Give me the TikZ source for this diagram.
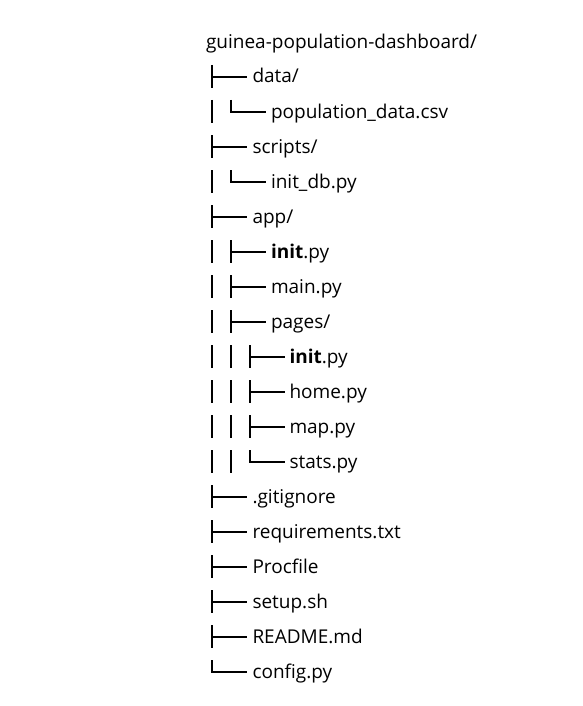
\documentclass[tikz,border=0pt]{standalone}
\usepackage{fontspec}
\setmainfont{Open Sans}
\begin{document}
\begin{tikzpicture}[x=1pt,y=-1pt,
  tree/.style={draw=black,line width=2pt,line join=miter,line cap=butt},
  lbl/.style={anchor=base west,inner sep=0pt,outer sep=0pt,text=black,font=\fontsize{19pt}{23pt}\selectfont}]
\fill[white] (0,0) rectangle (582,706);
\useasboundingbox (0,0) rectangle (582,706);
\newcommand\Vb[2]{\draw[tree] ({#1},{42+35*#2-12}) -- ({#1},{42+35*#2+11});}
\newcommand\Tee[2]{\Vb{#1}{#2}\draw[tree] ({#1},{42+35*#2}) -- ({#1+35},{42+35*#2});}
\newcommand\Ell[2]{\draw[tree] ({#1},{42+35*#2-12}) -- ({#1},{42+35*#2}) -- ({#1+35},{42+35*#2});}
\def\ca{212}\def\cb{231}\def\cc{250}
\def\ta{252.5}\def\tb{271}\def\tc{289.5}
% root
\node[lbl] (root) at (206,49) {guinea-population-dashboard/};
% rows
\Tee{\ca}{1}\node[lbl] (data) at (\ta,{42+35*1+6}) {data/};
\Vb{\ca}{2}\Ell{\cb}{2}\node[lbl] (csv) at (\tb,{42+35*2+6}) {population\_data.csv};
\Tee{\ca}{3}\node[lbl] (scripts) at (\ta,{42+35*3+6}) {scripts/};
\Vb{\ca}{4}\Ell{\cb}{4}\node[lbl] (initdb) at (\tb,{42+35*4+6}) {init\_db.py};
\Tee{\ca}{5}\node[lbl] (app) at (\ta,{42+35*5+6}) {app/};
\Vb{\ca}{6}\Tee{\cb}{6}\node[lbl] (appinit) at (\tb,{42+35*6+6}) {\textbf{init}.py};
\Vb{\ca}{7}\Tee{\cb}{7}\node[lbl] (main) at (\tb,{42+35*7+6}) {main.py};
\Vb{\ca}{8}\Tee{\cb}{8}\node[lbl] (pages) at (\tb,{42+35*8+6}) {pages/};
\Vb{\ca}{9}\Vb{\cb}{9}\Tee{\cc}{9}\node[lbl] (pginit) at (\tc,{42+35*9+6}) {\textbf{init}.py};
\Vb{\ca}{10}\Vb{\cb}{10}\Tee{\cc}{10}\node[lbl] (home) at (\tc,{42+35*10+6}) {home.py};
\Vb{\ca}{11}\Vb{\cb}{11}\Tee{\cc}{11}\node[lbl] (map) at (\tc,{42+35*11+6}) {map.py};
\Vb{\ca}{12}\Vb{\cb}{12}\Ell{\cc}{12}\node[lbl] (stats) at (\tc,{42+35*12+6}) {stats.py};
\Tee{\ca}{13}\node[lbl] (gitignore) at (\ta,{42+35*13+6}) {.gitignore};
\Tee{\ca}{14}\node[lbl] (req) at (\ta,{42+35*14+6}) {requirements.txt};
\Tee{\ca}{15}\node[lbl] (procfile) at (\ta,{42+35*15+6}) {Procfile};
\Tee{\ca}{16}\node[lbl] (setup) at (\ta,{42+35*16+6}) {setup.sh};
\Tee{\ca}{17}\node[lbl] (readme) at (\ta,{42+35*17+6}) {README.md};
\Ell{\ca}{18}\node[lbl] (config) at (\ta,{42+35*18+6}) {config.py};
\end{tikzpicture}
\end{document}
